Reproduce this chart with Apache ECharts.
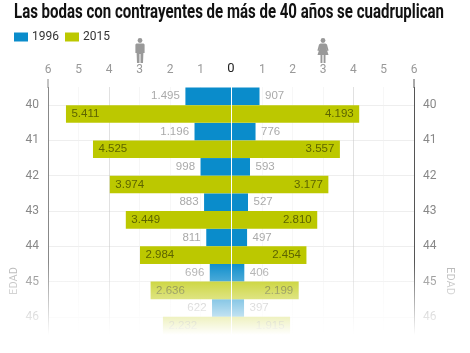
<!DOCTYPE html>
<html>
<head>
<meta charset="utf-8">
<style>html,body{margin:0;padding:0;background:#fff}#chart{width:470px;height:353px}</style>
<script src="https://cdn.jsdelivr.net/npm/echarts@6/dist/echarts.min.js"></script>
</head>
<body>
<div id="chart"></div>
<script>
var ages = ['40', '41', '42', '43', '44', '45', '46'];
var men1996 = [1495, 1196, 998, 883, 811, 696, 622];
var men2015 = [5411, 4525, 3974, 3449, 2984, 2636, 2232];
var women1996 = [907, 776, 593, 527, 497, 406, 397];
var women2015 = [4193, 3557, 3177, 2810, 2454, 2199, 1915];

var blue = '#0a8ccb', green = '#bcc800';
var font = 'Roboto, sans-serif';
var titleText = 'Las bodas con contrayentes de más de 40 años se cuadruplican';
var titleFont = 'bold 21px Roboto, sans-serif';

function dots(p) {
	return String(p.value).replace(/\B(?=(\d{3})+$)/g, '.');
}

function xAxis(index, inverse, hideZero) {
	return {
		type: 'value', gridIndex: index, inverse: inverse, position: 'top',
		min: 0, max: 6000, interval: 1000,
		axisLine: { show: false }, axisTick: { show: false },
		axisLabel: {
			margin: 12, fontFamily: font, fontSize: 12,
			formatter: function (v) {
				if (v === 0) return hideZero ? '' : '{zero|0}';
				return v / 1000;
			},
			color: '#999',
			rich: { zero: { color: '#222', fontFamily: font, fontSize: 13 } }
		},
		splitLine: {
			show: true,
			lineStyle: {
				type: 'dotted',
				color: ['#fff', '#f0f0f0', '#f0f0f0', '#eee', '#c4c4c4', '#f0f0f0', '#fff']
			}
		}
	};
}

function yAxis(index, position, lineColor) {
	return {
		type: 'category', gridIndex: index, data: ages, inverse: true, position: position,
		axisLine: { onZero: false, lineStyle: { color: lineColor, width: 1 } },
		axisTick: { alignWithLabel: true, length: 5, lineStyle: { color: '#e8e8e8' } },
		axisLabel: { margin: 9, color: '#888', fontFamily: font, fontSize: 12 },
		splitLine: { show: true, alignWithLabel: true, lineStyle: { color: '#eee' } }
	};
}

function bars(name, index, data, color, outer, labelPos) {
	return {
		name: name, type: 'bar', xAxisIndex: index, yAxisIndex: index, data: data,
		barWidth: 17.65, barGap: 0, silent: true,
		itemStyle: { color: color },
		label: {
			show: true, position: labelPos, distance: 5.5, formatter: dots,
			fontFamily: '"Liberation Sans", sans-serif', fontSize: 11.5,
			color: outer ? '#aaa' : '#5d6400'
		}
	};
}

function person(x, points) {
	return {
		type: 'group', x: x, y: 46, z: 20,
		children: [
			{ type: 'circle', shape: { cx: 0, cy: -5.5, r: 2.4 }, style: { fill: '#999' } },
			{ type: 'polygon', shape: { points: points }, style: { fill: '#999' } }
		]
	};
}

var manShape = [[-3.6, -2.5], [3.6, -2.5], [4.6, -1.5], [4.6, 7], [3.4, 7], [3, 17], [0.5, 17], [0.5, 8], [-0.5, 8], [-0.5, 17], [-3, 17], [-3.4, 7], [-4.6, 7], [-4.6, -1.5]];
var womanShape = [[-2.5, -2.5], [2.5, -2.5], [4, -1.5], [5.6, 4.5], [4.4, 5], [3, 1], [5.5, 9], [2.5, 9], [2.5, 17], [0.6, 17], [0.6, 9], [-0.6, 9], [-0.6, 17], [-2.5, 17], [-2.5, 9], [-5.5, 9], [-3, 1], [-4.4, 5], [-5.6, 4.5], [-4, -1.5]];

var ctx = document.createElement('canvas').getContext('2d');
ctx.font = titleFont;
var titleScale = 430 / ctx.measureText(titleText).width;

var chart = echarts.init(document.getElementById('chart'), null, { renderer: 'canvas' });
chart.setOption({
	animation: false,
	backgroundColor: '#fff',
	legend: {
		left: 14, top: 31, itemWidth: 14, itemHeight: 9, itemGap: 6,
		icon: 'rect', selectedMode: false, padding: 0,
		data: ['1996', '2015'],
		textStyle: { fontFamily: font, fontSize: 12, color: '#333', padding: [0, 0, 0, -1] }
	},
	grid: [
		{ left: 48, width: 183, top: 87.5, height: 247 },
		{ left: 232, width: 182, top: 87.5, height: 247 }
	],
	xAxis: [xAxis(0, true, false), xAxis(1, false, true)],
	yAxis: [yAxis(0, 'left', '#888'), yAxis(1, 'right', '#555')],
	series: [
		bars('1996', 0, men1996, blue, true, 'left'),
		bars('2015', 0, men2015, green, false, 'insideLeft'),
		bars('1996', 1, women1996, blue, true, 'right'),
		bars('2015', 1, women2015, green, false, 'insideRight')
	],
	graphic: [
		{ type: 'text', x: 14, y: 13, scaleX: titleScale, z: 5,
			style: { text: titleText, fill: '#111', font: titleFont, verticalAlign: 'middle' } },
		{ type: 'line', shape: { x1: 48, y1: 79, x2: 48, y2: 88 }, style: { stroke: '#888', lineWidth: 1 }, z: 5 },
		{ type: 'line', shape: { x1: 414, y1: 79, x2: 414, y2: 88 }, style: { stroke: '#555', lineWidth: 1 }, z: 5 },
		{ type: 'text', x: 14, y: 281, rotation: Math.PI / 2, z: 5,
			style: { text: 'EDAD', fill: '#b4b4b4', font: '11px Roboto, sans-serif', align: 'center', verticalAlign: 'middle' } },
		{ type: 'text', x: 450, y: 281, rotation: -Math.PI / 2, z: 5,
			style: { text: 'EDAD', fill: '#b4b4b4', font: '11px Roboto, sans-serif', align: 'center', verticalAlign: 'middle' } },
		person(140, manShape),
		person(323, womanShape),
		{
			type: 'rect', z: 100,
			shape: { x: 0, y: 262, width: 470, height: 91 },
			style: {
				fill: new echarts.graphic.LinearGradient(0, 0, 0, 1, [
					{ offset: 0, color: 'rgba(255,255,255,0)' },
					{ offset: 0.8, color: 'rgba(255,255,255,1)' },
					{ offset: 1, color: 'rgba(255,255,255,1)' }
				])
			}
		}
	]
});
</script>
</body>
</html>
